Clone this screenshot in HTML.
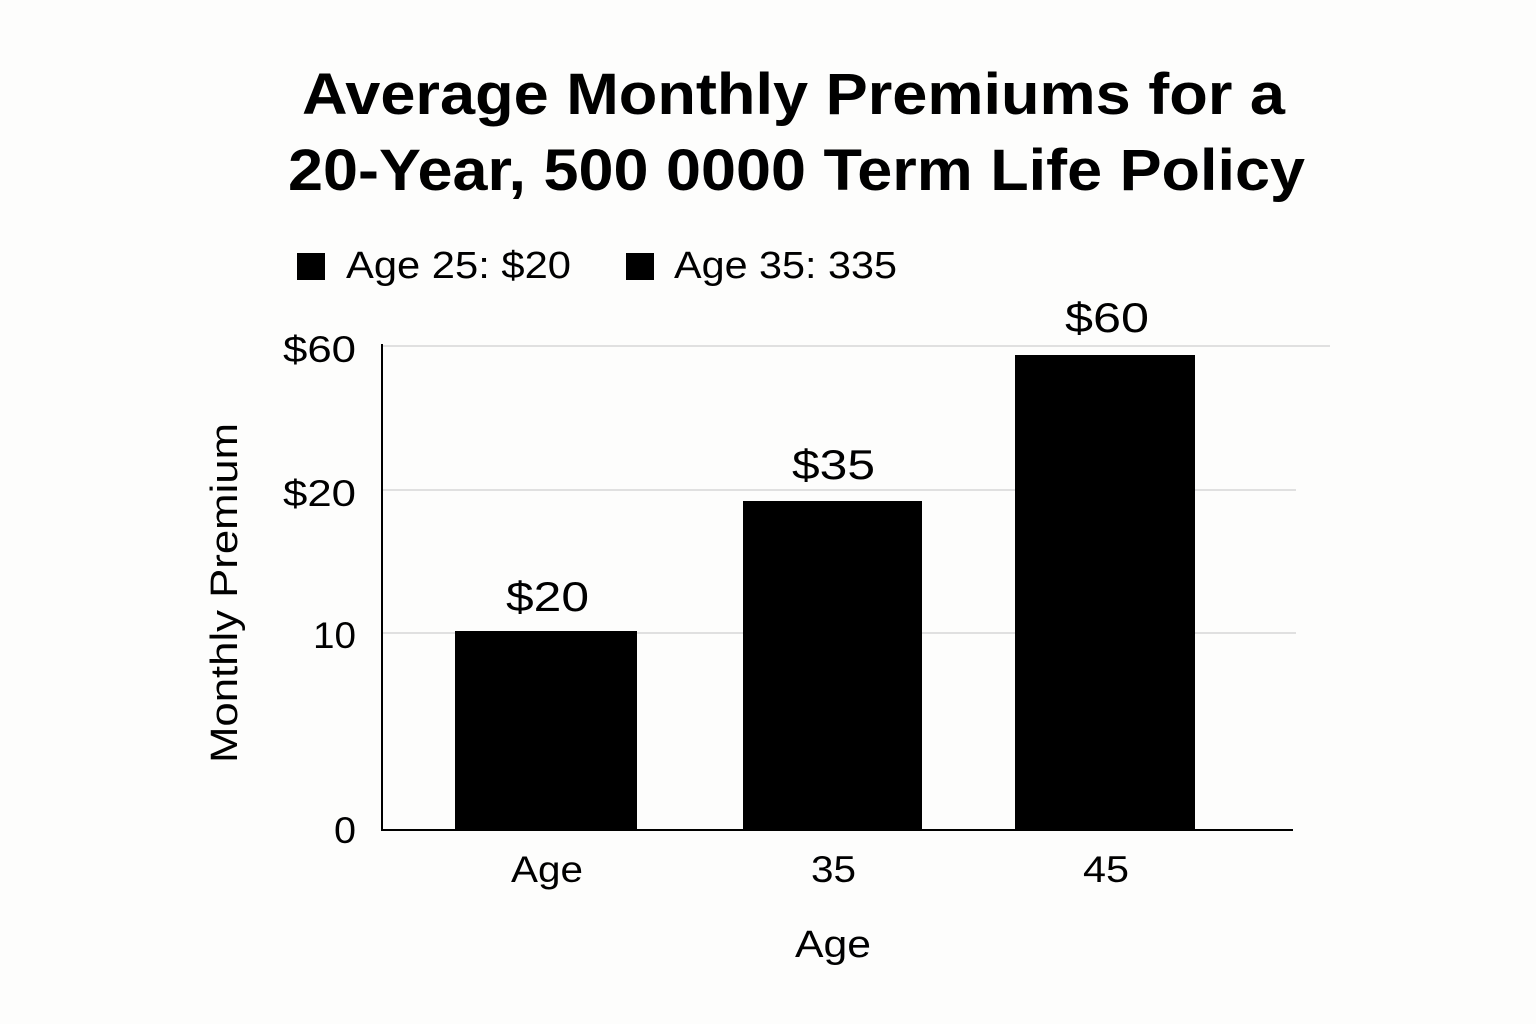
<!DOCTYPE html>
<html><head><meta charset="utf-8"><style>
html,body{margin:0;padding:0;background:#fdfdfc;}
svg{display:block;font-family:"Liberation Sans","DejaVu Sans",sans-serif;}
</style></head><body>
<svg width="1536" height="1024" viewBox="0 0 1536 1024" xmlns="http://www.w3.org/2000/svg">
<rect width="1536" height="1024" fill="#fdfdfc"/>
<g font-weight="bold" font-size="58" fill="#000">
<text x="302" y="114" textLength="983" lengthAdjust="spacingAndGlyphs">Average Monthly Premiums for a</text>
<text x="288" y="190" textLength="1017" lengthAdjust="spacingAndGlyphs">20-Year, 500 0000 Term Life Policy</text>
</g>
<rect x="297" y="253" width="28" height="27" fill="#000"/>
<text x="346" y="278" font-size="38" textLength="225" lengthAdjust="spacingAndGlyphs">Age 25: $20</text>
<rect x="626" y="253" width="28" height="27" fill="#000"/>
<text x="674" y="278" font-size="38" textLength="223" lengthAdjust="spacingAndGlyphs">Age 35: 335</text>
<g stroke="#d6d6d6" stroke-width="1.5">
<line x1="382" y1="346" x2="1330" y2="346"/>
<line x1="382" y1="490" x2="1296" y2="490"/>
<line x1="382" y1="633" x2="1296" y2="633"/>
</g>
<rect x="455" y="631" width="182" height="199" fill="#000"/>
<rect x="743" y="501" width="179" height="329" fill="#000"/>
<rect x="1015" y="355" width="180" height="475" fill="#000"/>
<line x1="382" y1="344" x2="382" y2="831" stroke="#000" stroke-width="2"/>
<line x1="381" y1="830" x2="1293" y2="830" stroke="#000" stroke-width="2"/>
<g font-size="42">
<text x="506" y="611" textLength="83" lengthAdjust="spacingAndGlyphs">$20</text>
<text x="792" y="479" textLength="83" lengthAdjust="spacingAndGlyphs">$35</text>
<text x="1065" y="332" textLength="84" lengthAdjust="spacingAndGlyphs">$60</text>
</g>
<g font-size="37">
<text x="283" y="362" textLength="73" lengthAdjust="spacingAndGlyphs">$60</text>
<text x="283" y="506" textLength="73" lengthAdjust="spacingAndGlyphs">$20</text>
<text x="313" y="648" textLength="43" lengthAdjust="spacingAndGlyphs">10</text>
<text x="334" y="843" textLength="22" lengthAdjust="spacingAndGlyphs">0</text>
</g>
<g font-size="37">
<text x="511" y="882" textLength="72" lengthAdjust="spacingAndGlyphs">Age</text>
<text x="811" y="882" textLength="45" lengthAdjust="spacingAndGlyphs">35</text>
<text x="1083" y="882" textLength="46" lengthAdjust="spacingAndGlyphs">45</text>
</g>
<text x="795" y="957" font-size="38" textLength="76" lengthAdjust="spacingAndGlyphs">Age</text>
<text transform="translate(237,763) rotate(-90)" font-size="38" textLength="340" lengthAdjust="spacingAndGlyphs">Monthly Premium</text>
</svg>
</body></html>
